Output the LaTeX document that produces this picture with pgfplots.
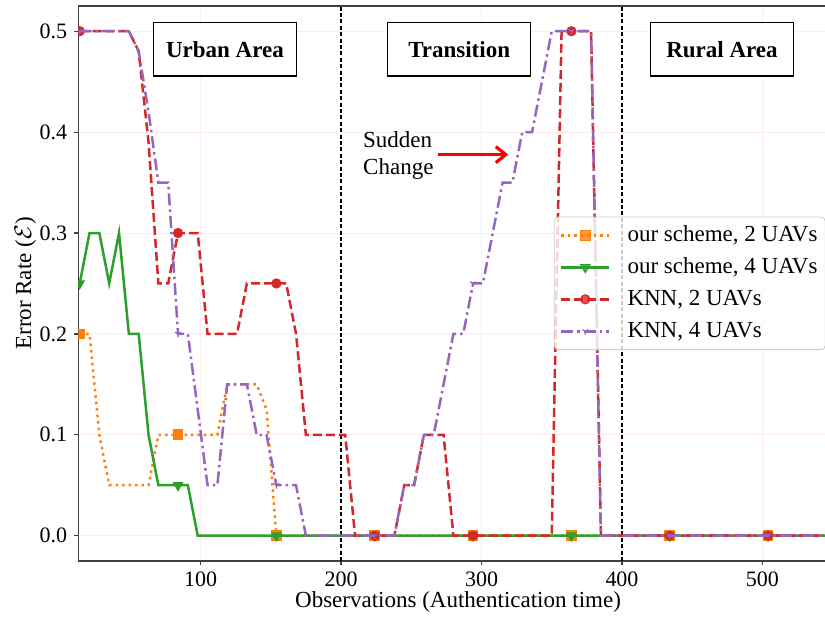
\documentclass[border=0pt]{standalone}
\usepackage{pgfplots}
\pgfplotsset{compat=1.18}
\usepackage{pgfplotstable}
\usepackage{fontspec}
\setmainfont{Liberation Serif}
\usetikzlibrary{arrows.meta}

\definecolor{tabOrange}{HTML}{FF7F0E}
\definecolor{tabGreen}{HTML}{2CA02C}
\definecolor{tabRed}{HTML}{D62728}
\definecolor{tabPurple}{HTML}{9467BD}

% x = observation, o/g = our scheme 2/4 UAVs, r/p = KNN 2/4 UAVs
\pgfplotstableread{
x   o     g     r     p
14  0.2   0.25  0.5   0.5
21  0.2   0.3   0.5   0.5
28  0.1   0.3   0.5   0.5
35  0.05  0.25  0.5   0.5
42  0.05  0.3   0.5   0.5
49  0.05  0.2   0.5   0.5
56  0.05  0.2   0.48  0.48
63  0.05  0.1   0.39  0.42
70  0.1   0.05  0.25  0.35
77  0.1   0.05  0.25  0.35
84  0.1   0.05  0.3   0.2
91  0.1   0.05  0.3   0.2
98  0.1   0     0.3   0.125
105 0.1   0     0.2   0.05
112 0.1   0     0.2   0.05
119 0.15  0     0.2   0.15
126 0.15  0     0.2   0.15
133 0.15  0     0.25  0.15
140 0.15  0     0.25  0.1
147 0.125 0     0.25  0.1
154 0     0     0.25  0.05
161 0     0     0.25  0.05
168 0     0     0.2   0.05
175 0     0     0.1   0
182 0     0     0.1   0
189 0     0     0.1   0
196 0     0     0.1   0
203 0     0     0.1   0
210 0     0     0     0
217 0     0     0     0
224 0     0     0     0
231 0     0     0     0
238 0     0     0     0
245 0     0     0.05  0.05
252 0     0     0.05  0.05
259 0     0     0.1   0.1
266 0     0     0.1   0.1
273 0     0     0.1   0.15
280 0     0     0     0.2
287 0     0     0     0.2
294 0     0     0     0.25
301 0     0     0     0.25
308 0     0     0     0.3
315 0     0     0     0.35
322 0     0     0     0.35
329 0     0     0     0.4
336 0     0     0     0.4
343 0     0     0     0.45
350 0     0     0     0.5
357 0     0     0.5   0.5
364 0     0     0.5   0.5
371 0     0     0.5   0.5
378 0     0     0.5   0.5
385 0     0     0     0
392 0     0     0     0
399 0     0     0     0
406 0     0     0     0
413 0     0     0     0
420 0     0     0     0
427 0     0     0     0
434 0     0     0     0
441 0     0     0     0
448 0     0     0     0
455 0     0     0     0
462 0     0     0     0
469 0     0     0     0
476 0     0     0     0
483 0     0     0     0
490 0     0     0     0
497 0     0     0     0
504 0     0     0     0
511 0     0     0     0
518 0     0     0     0
525 0     0     0     0
532 0     0     0     0
539 0     0     0     0
546 0     0     0     0
}\errdata

\begin{document}
\begin{tikzpicture}
\begin{axis}[
    scale only axis,
    width=373.4pt, height=277.5pt,
    xmin=13, xmax=544.5,
    ymin=-0.025, ymax=0.525,
    axis x line*=box, axis y line*=left,
    axis line style={-, black!75, line width=0.6pt},
    xtick={100,200,300,400,500},
    ytick={0,0.1,0.2,0.3,0.4,0.5},
    xtick pos=left, ytick pos=left,
    tick align=outside, major tick length=2pt,
    tick style={black!75, line width=0.6pt},
    grid=major,
    major grid style={red!8, line width=0.5pt},
    clip marker paths=true,
    /pgf/number format/assume math mode=true,
    ticklabel style={font=\fontsize{11}{13}\selectfont},
    yticklabel style={/pgf/number format/.cd, fixed, fixed zerofill, precision=1},
    xlabel={Observations (Authentication time)},
    xlabel style={at={(axis cs:283.3,-0.025)}, anchor=north, yshift=-15pt, inner sep=0pt, font=\fontsize{11.5}{13}\selectfont},
    ylabel={Error Rate ($\mathcal{E}$)},
    ylabel style={at={(axis description cs:-0.056,0.5)}, anchor=south, inner sep=0pt, font=\fontsize{11.5}{13}\selectfont},
    legend cell align=left,
    legend style={at={(axis description cs:0.637,0.6204)}, anchor=north west,
        draw=black!20, rounded corners=2pt, fill=white, fill opacity=0.8,
        draw opacity=1, text opacity=1, font=\fontsize{11.5}{13}\selectfont,
        inner xsep=2.85pt, inner ysep=3pt, row sep=3.7pt,
        nodes={inner sep=1pt, text height=8pt, text depth=2.3pt},
        /tikz/every odd column/.append style={column sep=7.5pt}},
    legend image code/.code={\draw[mark repeat=2,mark phase=2] plot coordinates {(0pt,0pt) (12pt,0pt) (24pt,0pt)};},
]
\coordinate (sw) at (rel axis cs:0,0);
\coordinate (ne) at (rel axis cs:1,1);

\addplot[black, line width=0.6pt, dash pattern=on 2pt off 1.2pt, forget plot] coordinates {(200,-0.025) (200,0.525)};
\addplot[black, line width=0.6pt, dash pattern=on 2pt off 1.2pt, forget plot] coordinates {(400,-0.025) (400,0.525)};

\addplot[tabOrange, line width=1.25pt, dash pattern=on 1.25pt off 2pt,
    mark=square*, mark size=2.4pt, mark repeat=10, mark phase=1, mark options={solid, line width=0.5pt}]
    table[x=x, y=o] {\errdata};
\addlegendentry{our scheme, 2 UAVs}
\addplot[tabGreen, line width=1.25pt,
    mark=triangle*, mark size=2.7pt, mark repeat=10, mark phase=1, mark options={solid, line width=0.5pt, rotate=180}]
    table[x=x, y=g] {\errdata};
\addlegendentry{our scheme, 4 UAVs}
\addplot[tabRed, line width=1.25pt, dash pattern=on 4.5pt off 2pt,
    mark=*, mark size=2.3pt, mark repeat=10, mark phase=1, mark options={solid, line width=0.5pt}]
    table[x=x, y=r] {\errdata};
\addlegendentry{KNN, 2 UAVs}
\addplot[tabPurple, line width=1.25pt, dash pattern=on 6pt off 2pt on 1.25pt off 2pt,
    mark=Mercedes star flipped, mark size=1.7pt, mark repeat=10, mark phase=1, mark options={solid, line width=0.6pt}]
    table[x=x, y=p] {\errdata};
\addlegendentry{KNN, 4 UAVs}

\node[draw=black, fill=white, line width=0.6pt, minimum width=71.5pt, minimum height=26.7pt,
    font=\bfseries\fontsize{11.5}{13}\selectfont] at (axis cs:117.4,0.482) {Urban Area};
\node[draw=black, fill=white, line width=0.6pt, minimum width=71.5pt, minimum height=26.7pt,
    font=\bfseries\fontsize{11.5}{13}\selectfont] at (axis cs:284.1,0.482) {Transition};
\node[draw=black, fill=white, line width=0.6pt, minimum width=71.5pt, minimum height=26.7pt,
    font=\bfseries\fontsize{11.5}{13}\selectfont] at (axis cs:471.2,0.482) {Rural Area};

\node[align=left, inner sep=0pt, font=\fontsize{11.5}{13.5}\selectfont] at (axis cs:240.8,0.3767) {Sudden\\Change};
\draw[-{Straight Barb[length=5pt,width=8pt]}, red, line width=1.6pt] (axis cs:269.3,0.3777) -- (axis cs:319.1,0.3777);
\end{axis}
\pgfresetboundingbox
\path[use as bounding box] ([xshift=-39.15pt,yshift=-28pt]sw) rectangle ([yshift=3pt]ne);
\end{tikzpicture}
\end{document}
